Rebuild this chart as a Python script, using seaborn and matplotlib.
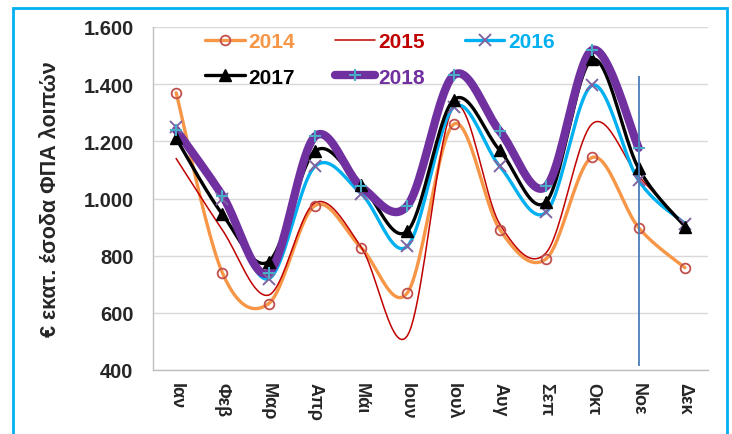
import numpy as np
import pandas as pd
import seaborn as sns
import matplotlib
matplotlib.use('Agg')
from matplotlib import pyplot as plt
from matplotlib.lines import Line2D
from matplotlib.patches import Rectangle
from matplotlib.ticker import FuncFormatter

months = ['Ιαν', 'Φεβ', 'Μαρ', 'Απρ', 'Μάι', 'Ιουν', 'Ιουλ', 'Αυγ', 'Σεπ', 'Οκτ', 'Νοε', 'Δεκ']
v2014 = [1370, 740, 632, 975, 828, 670, 1260, 891, 789, 1144, 898, 758]
v2015 = [1140, 890, 662, 985, 830, 520, 1320, 910, 810, 1262, 1078, 905]
v2016 = [1250, 1000, 719, 1112, 1017, 833, 1320, 1112, 952, 1396, 1063, 912]
v2017 = [1210, 945, 779, 1165, 1046, 886, 1345, 1168, 988, 1487, 1105, 902]
v2018 = [1240, 1010, 740, 1217, 1042, 975, 1431, 1235, 1042, 1520, 1177, np.nan]
years = ['2014', '2015', '2016', '2017', '2018']
marker_line = [415, 1430]   # κάθετη γραμμή στο Νοε

sns.set_theme(style='white')
plt.rcParams['font.family'] = ['Liberation Sans', 'DejaVu Sans']
plt.rcParams['font.weight'] = 'bold'


def smooth(vals, n=24):
    # ομαλή καμπύλη τύπου Excel (Bezier / Catmull-Rom) μέσα από τα σημεία
    pts = [(i, v) for i, v in enumerate(vals) if not np.isnan(v)]
    P = np.array(pts, dtype=float)
    xs, ys = [], []
    for k in range(len(P) - 1):
        p0 = P[k - 1] if k > 0 else P[k]
        p1, p2 = P[k], P[k + 1]
        p3 = P[k + 2] if k + 2 < len(P) else P[k + 1]
        c1 = p1 + (p2 - p0) / 6
        c2 = p2 - (p3 - p1) / 6
        last = k == len(P) - 2
        t = np.linspace(0, 1, n + 1) if last else np.linspace(0, 1, n, endpoint=False)
        t = t[:, None]
        b = (1 - t) ** 3 * p1 + 3 * (1 - t) ** 2 * t * c1 + 3 * (1 - t) * t ** 2 * c2 + t ** 3 * p2
        xs.extend(b[:, 0])
        ys.extend(b[:, 1])
    return np.array(xs), np.array(ys)


styles = {
    '2014': dict(values=v2014, color='#F79646', lw=2.4, marker='o', ms=7, mfc='none', mec='#C0504D', mew=1.3, text='#F79646'),
    '2015': dict(values=v2015, color='#C00000', lw=1.1, marker=None, ms=0, mfc='none', mec='none', mew=0, text='#C00000'),
    '2016': dict(values=v2016, color='#00B0F0', lw=2.4, marker='x', ms=8, mfc='none', mec='#8064A2', mew=1.4, text='#00B0F0'),
    '2017': dict(values=v2017, color='black', lw=2.4, marker='^', ms=8, mfc='black', mec='black', mew=1, text='black'),
    '2018': dict(values=v2018, color='#7030A0', lw=6, marker='+', ms=8, mfc='none', mec='#4BACC6', mew=1.5, text='#7030A0'),
}

fig = plt.figure(figsize=(7.32, 4.35), dpi=100)
ax = fig.add_axes([153 / 732, 1 - 371 / 435, (708 - 153) / 732, (371 - 28) / 435])

handles = {}
for y in years:
    s = styles[y]
    xs, ys = smooth(s['values'])
    sns.lineplot(x=xs, y=ys, ax=ax, color=s['color'], linewidth=s['lw'], sort=False, estimator=None)
    if s['marker']:
        ax.plot(range(len(months)), s['values'], linestyle='none', marker=s['marker'], markersize=s['ms'],
                markerfacecolor=s['mfc'], markeredgecolor=s['mec'], markeredgewidth=s['mew'], zorder=3)
    handles[y] = Line2D([], [], color=s['color'], linewidth=s['lw'], marker=s['marker'], markersize=s['ms'],
                        markerfacecolor=s['mfc'], markeredgecolor=s['mec'], markeredgewidth=s['mew'], label=y)

ax.vlines(months.index('Νοε'), marker_line[0], marker_line[1], color='#4A7EBB', linewidth=1.3, zorder=4)

ax.set_xlim(-0.5, len(months) - 0.5)
ax.set_ylim(400, 1600)
ax.set_xticks(range(len(months)))
ax.set_xticklabels(months, rotation=-90, fontsize=13, fontweight='bold')
ax.set_yticks(range(400, 1601, 200))
ax.yaxis.set_major_formatter(FuncFormatter(lambda v, p: f'{int(v):,}'.replace(',', '.')))
ax.tick_params(axis='y', length=0, pad=14, labelsize=14.5)
ax.tick_params(axis='x', length=0, pad=9)
for lab in ax.get_yticklabels():
    lab.set_fontweight('bold')
ax.grid(axis='y', color='#D9D9D9', linewidth=1)
ax.grid(axis='x', visible=False)
for side in ['top', 'right']:
    ax.spines[side].set_visible(False)
for side in ['left', 'bottom']:
    ax.spines[side].set_color('#BFBFBF')
    ax.spines[side].set_linewidth(1)
ax.set_xlabel('')
ax.set_ylabel('€ εκατ. έσοδα ΦΠΑ λοιπών', fontsize=15.5, fontweight='bold')
ax.yaxis.set_label_coords(-0.165, 0.5)

# το matplotlib γεμίζει το υπόμνημα κατά στήλες -> σειρά ώστε να διαβάζεται κατά γραμμές
leg_order = ['2014', '2017', '2015', '2018', '2016']
leg = ax.legend(handles=[handles[y] for y in leg_order], ncol=3, frameon=False, loc='upper left',
                bbox_to_anchor=(205 / 732, 1 - 33 / 435), bbox_transform=fig.transFigure,
                prop={'size': 15, 'weight': 'bold'}, labelcolor=[styles[y]['text'] for y in leg_order],
                handlelength=1.9, handletextpad=0.2, columnspacing=1.9, labelspacing=0.8, borderpad=0,
                borderaxespad=0)

fig.patches.append(Rectangle((13 / 732, -0.1), (727 - 13) / 732, 1.1 - 9 / 435, transform=fig.transFigure,
                             fill=False, edgecolor='#00B0F0', linewidth=2))

fig.savefig('out.png', dpi=100)
